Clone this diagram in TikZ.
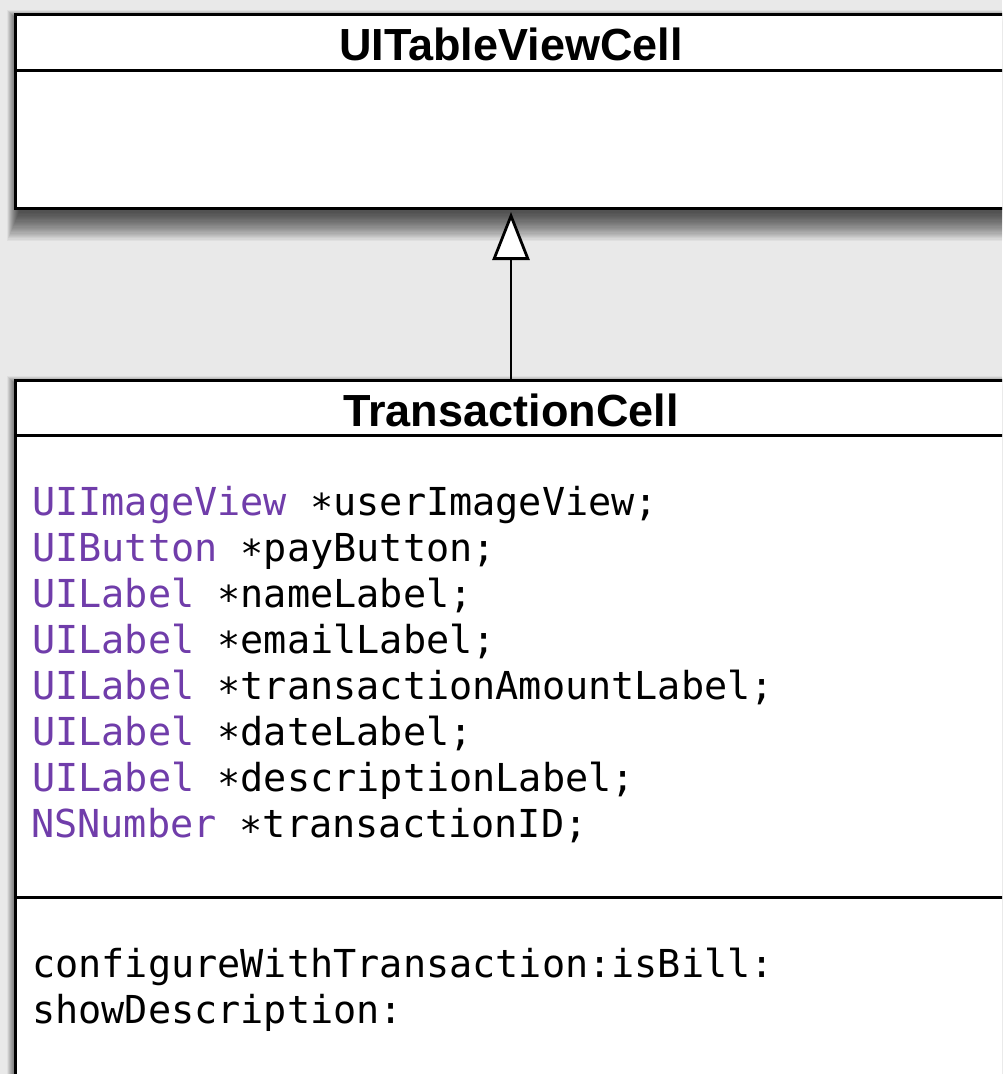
\documentclass[tikz,border=0pt]{standalone}
\usepackage{fontspec}
\setmainfont{Liberation Sans}
\newfontfamily\codefont{DejaVu Sans Mono}
\usetikzlibrary{arrows.meta}
\definecolor{bgc}{RGB}{233,233,233}
\definecolor{typec}{RGB}{112,61,170}
\tikzset{
  classbox/.style={draw=black, line width=3pt, fill=white, rectangle, inner sep=0pt, outer sep=0pt, anchor=north west},
  titletext/.style={font=\fontsize{45}{54}\selectfont\bfseries, anchor=base, inner sep=0pt},
  codetext/.style={font=\codefont\fontsize{38.5}{46}\selectfont, anchor=base west, inner sep=0pt},
  sepline/.style={line width=3pt},
  inherit/.style={line width=2.8pt, -{Triangle[length=48pt, width=37pt, fill=white, line width=2.8pt]}, shorten >=4pt},
  shadowlayer/.style={fill=black, opacity=0.04},
}
\newcommand{\typ}[1]{\textcolor{typec}{#1}}
\newcommand{\ptr}{\raisebox{-0.3ex}{*}}
\begin{document}
\begin{tikzpicture}[x=1pt,y=-1pt]
\useasboundingbox (0,0) rectangle (1002,1074);
\begin{scope}
\clip (0,0) rectangle (1002,1074);
\fill[bgc] (0,0) rectangle (1002,1074);
% soft shadows
\foreach \i in {1,...,24}{
  \fill[shadowlayer] (19-0.5*\i, 22-0.5*\i) rectangle (1040, 212+1.2*\i);
  \fill[shadowlayer] (19-0.5*\i, 388-0.5*\i) rectangle (1040, 1100);
}
% superclass
\node[classbox, minimum width=1025pt, minimum height=194pt] (base) at (15,14) {};
\draw[sepline] ([yshift=-56pt]base.north west) -- ([yshift=-56pt]base.north east);
\node[titletext] (baseTitle) at (511,60) {UITableViewCell};
% subclass
\node[classbox, minimum width=1025pt, minimum height=720pt] (sub) at (15,380) {};
\draw[sepline] ([yshift=-55pt]sub.north west) -- ([yshift=-55pt]sub.north east);
\draw[sepline] ([yshift=-517pt]sub.north west) -- ([yshift=-517pt]sub.north east);
\node[titletext] (subTitle) at (511,426) {TransactionCell};
% attributes
\node[codetext] (a1) at (32,515.0) {\typ{UIImageView} \ptr userImageView;};
\node[codetext] (a2) at (32,561.1) {\typ{UIButton} \ptr payButton;};
\node[codetext] (a3) at (32,607.2) {\typ{UILabel} \ptr nameLabel;};
\node[codetext] (a4) at (32,653.3) {\typ{UILabel} \ptr emailLabel;};
\node[codetext] (a5) at (32,699.4) {\typ{UILabel} \ptr transactionAmountLabel;};
\node[codetext] (a6) at (32,745.5) {\typ{UILabel} \ptr dateLabel;};
\node[codetext] (a7) at (32,791.6) {\typ{UILabel} \ptr descriptionLabel;};
\node[codetext] (a8) at (31,837.7) {\typ{NSNumber} \ptr transactionID;};
% operations
\node[codetext] (m1) at (32,977) {configureWithTransaction:isBill:};
\node[codetext] (m2) at (32,1023) {showDescription:};
% generalization
\coordinate (ax) at (511,0);
\draw[inherit] (sub.north -| ax) -- (base.south -| ax);
\end{scope}
\end{tikzpicture}
\end{document}
